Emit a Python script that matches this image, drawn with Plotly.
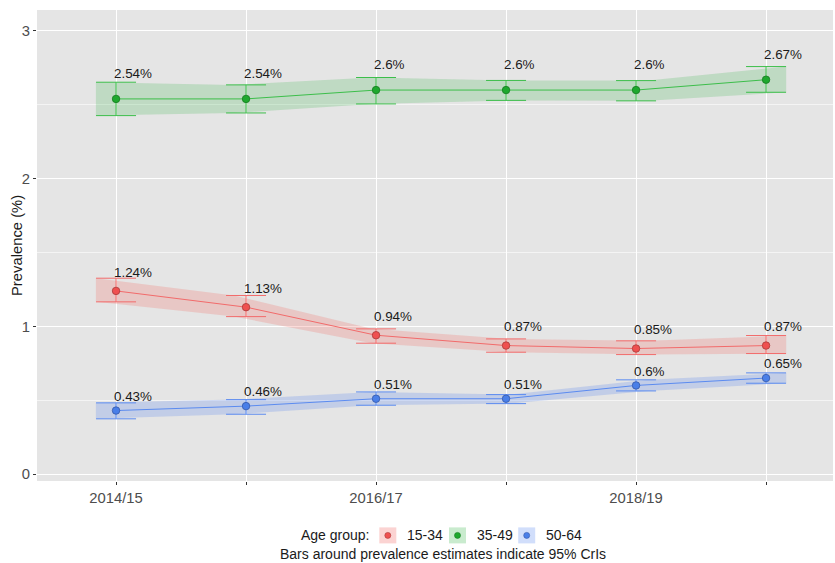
import numpy as np
import plotly.graph_objects as go

# Survey years (only every other one gets a tick label)
years = ["2014/15", "2015/16", "2016/17", "2017/18", "2018/19", "2019/20"]
tick_text = ["2014/15", "", "2016/17", "", "2018/19", ""]

groups = ["15-34", "35-49", "50-64"]

# Prevalence estimates (%) with 95% credible intervals
prev_15_34 = [1.24, 1.13, 0.94, 0.87, 0.85, 0.87]
lo_15_34 = [1.166, 1.066, 0.886, 0.825, 0.809, 0.816]
hi_15_34 = [1.326, 1.209, 0.983, 0.915, 0.902, 0.938]

prev_35_49 = [2.54, 2.54, 2.60, 2.60, 2.60, 2.67]
lo_35_49 = [2.427, 2.445, 2.506, 2.530, 2.527, 2.585]
hi_35_49 = [2.653, 2.635, 2.685, 2.665, 2.664, 2.759]

prev_50_64 = [0.43, 0.46, 0.51, 0.51, 0.60, 0.65]
lo_50_64 = [0.374, 0.405, 0.466, 0.477, 0.563, 0.615]
hi_50_64 = [0.482, 0.504, 0.556, 0.538, 0.638, 0.685]

y_tick_vals = [0, 1, 2, 3]
y_tick_text = ["0", "1", "2", "3"]

series = {
    "15-34": (prev_15_34, lo_15_34, hi_15_34),
    "35-49": (prev_35_49, lo_35_49, hi_35_49),
    "50-64": (prev_50_64, lo_50_64, hi_50_64),
}

style = {
    "15-34": dict(line="#F26B6B", point="#EF5050", edge="#A83A3A",
                  band="rgba(243,110,105,0.25)", key="rgba(243,110,105,0.30)", label_gap=0.128),
    "35-49": dict(line="#3CBE4A", point="#1EA82E", edge="#157A20",
                  band="rgba(40,175,60,0.20)", key="rgba(40,175,60,0.25)", label_gap=0.170),
    "50-64": dict(line="#5B8BF0", point="#4A7FE8", edge="#3558A8",
                  band="rgba(90,135,240,0.25)", key="rgba(90,135,240,0.28)", label_gap=0.096),
}

FONT = "Liberation Sans, Arial, sans-serif"
W, H = 835, 563
ML, MR, MT, MB = 37, 2, 10, 82
pw, ph = W - ML - MR, H - MT - MB

x = np.arange(len(years))
cap = 0.155  # half-width of the error bar caps in x units
band_x = np.linspace(x[0] - cap, x[-1] + cap, len(x))

fig = go.Figure()

for g in groups:
    est, lo, hi = series[g]
    s = style[g]
    est, lo, hi = np.array(est), np.array(lo), np.array(hi)
    # credible-interval band
    fig.add_trace(go.Scatter(
        x=np.concatenate([band_x, band_x[::-1]]),
        y=np.concatenate([hi, lo[::-1]]),
        fill="toself", fillcolor=s["band"], line=dict(width=0),
        mode="lines", hoverinfo="skip", showlegend=False))
    # trend line
    fig.add_trace(go.Scatter(
        x=x, y=est, mode="lines", line=dict(color=s["line"], width=1),
        showlegend=False, hoverinfo="skip"))
    # error bars and points
    fig.add_trace(go.Scatter(
        x=x, y=est, mode="markers", name=g,
        marker=dict(size=7.5, color=s["point"], line=dict(color=s["edge"], width=0.8)),
        error_y=dict(type="data", symmetric=False, array=hi - est, arrayminus=est - lo,
                     color=s["line"], thickness=1, width=20),
        showlegend=False))
    for xi, v in zip(x, est):
        fig.add_annotation(
            x=xi, y=v + s["label_gap"], text=f"{v:g}%", showarrow=False,
            xanchor="left", yanchor="middle", xshift=-4,
            font=dict(family=FONT, size=13.4, color="#1A1A1A"))


def px(xp):
    return (xp - ML) / pw


def py(yp):
    return (H - MB - yp) / ph


# y-axis title
fig.add_annotation(xref="paper", yref="paper", x=px(16.5), y=0.5,
                   text="Prevalence (%)", textangle=-90, showarrow=False,
                   xanchor="center", yanchor="middle",
                   font=dict(family=FONT, size=14.8, color="#1A1A1A"))

# legend drawn beneath the panel
leg_y = 535.4
fig.add_annotation(xref="paper", yref="paper", x=px(372), y=py(leg_y),
                   text="Age group:", showarrow=False, xanchor="right", yanchor="middle",
                   font=dict(family=FONT, size=14, color="#1A1A1A"))
key_left = {"15-34": 379.3, "35-49": 449.0, "50-64": 518.2}
for g in groups:
    s = style[g]
    x0 = key_left[g]
    fig.add_shape(type="rect", xref="paper", yref="paper",
                  x0=px(x0), x1=px(x0 + 17), y0=py(leg_y - 8), y1=py(leg_y + 8),
                  fillcolor=s["key"], line=dict(width=0), layer="above")
    cx = x0 + 8.5
    r = 3
    fig.add_shape(type="circle", xref="paper", yref="paper",
                  x0=px(cx - r), x1=px(cx + r), y0=py(leg_y - r), y1=py(leg_y + r),
                  fillcolor=s["point"], line=dict(color=s["edge"], width=0.6), layer="above")
    fig.add_annotation(xref="paper", yref="paper", x=px(x0 + 26), y=py(leg_y),
                       text=g, showarrow=False, xanchor="left", yanchor="middle",
                       font=dict(family=FONT, size=14, color="#1A1A1A"))

fig.add_annotation(xref="paper", yref="paper", x=px(443), y=py(553.5),
                   text="Bars around prevalence estimates indicate 95% CrIs",
                   showarrow=False, xanchor="center", yanchor="middle",
                   font=dict(family=FONT, size=14, color="#1A1A1A"))

fig.update_layout(
    width=W, height=H,
    margin=dict(l=ML, r=MR, t=MT, b=MB),
    paper_bgcolor="white", plot_bgcolor="#E5E5E5",
    showlegend=False,
    font=dict(family=FONT),
)
fig.update_xaxes(
    range=[-0.608, 5.515], tickvals=list(x), ticktext=tick_text,
    showgrid=True, gridcolor="white", gridwidth=1.1, zeroline=False,
    ticks="outside", ticklen=3, tickcolor="#333333", tickwidth=1,
    tickfont=dict(family=FONT, size=14.8, color="#4D4D4D"), showline=False,
)
fig.update_yaxes(
    range=[-0.047, 3.142], tickvals=y_tick_vals, ticktext=y_tick_text,
    showgrid=True, gridcolor="white", gridwidth=1.1, zeroline=False,
    ticks="outside", ticklen=3, tickcolor="#333333", tickwidth=1,
    tickfont=dict(family=FONT, size=14.8, color="#4D4D4D"), showline=False,
    minor=dict(dtick=0.5, tick0=0, showgrid=True, gridcolor="#F4F4F4", gridwidth=0.6),
)

fig.write_html("out.html")
